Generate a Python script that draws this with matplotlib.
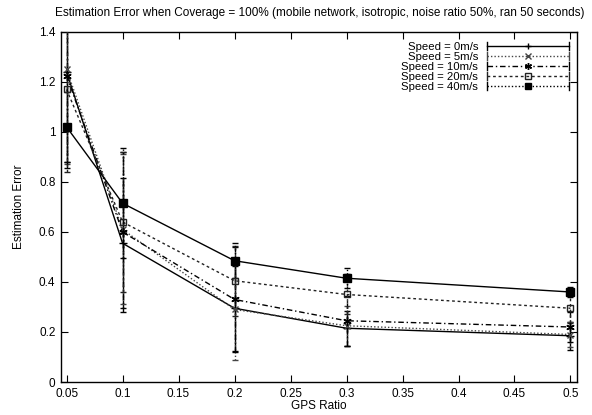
import matplotlib
matplotlib.use("Agg")
import matplotlib.pyplot as plt
from matplotlib.lines import Line2D
from matplotlib.legend_handler import HandlerLine2D

plt.rcParams['font.family'] = ['Liberation Sans', 'DejaVu Sans']

gps_ratio = [0.05, 0.1, 0.2, 0.3, 0.5]
speed_labels = ["Speed = 0m/s", "Speed = 5m/s", "Speed = 10m/s",
                "Speed = 20m/s", "Speed = 40m/s"]

err_0 = [1.24, 0.555, 0.295, 0.215, 0.185]
err_5 = [1.25, 0.610, 0.290, 0.225, 0.190]
err_10 = [1.225, 0.600, 0.330, 0.245, 0.220]
err_20 = [1.17, 0.640, 0.405, 0.350, 0.295]
err_40 = [1.02, 0.715, 0.485, 0.415, 0.360]

sd_0 = [0.36, 0.26, 0.17, 0.07, 0.055]
sd_5 = [0.38, 0.30, 0.20, 0.08, 0.05]
sd_10 = [0.37, 0.32, 0.21, 0.10, 0.06]
sd_20 = [0.33, 0.28, 0.14, 0.08, 0.06]
sd_40 = [0.14, 0.22, 0.07, 0.04, 0.02]

means = [err_0, err_5, err_10, err_20, err_40]
sds = [sd_0, sd_5, sd_10, sd_20, sd_40]

line_styles = ['-', (0, (1, 1.5)), (0, (4, 2, 1, 2)), (0, (2, 2)), '-']
bar_styles = ['-', (0, (1, 1.5)), (0, (4, 2, 1, 2)), (0, (2, 2)), (0, (1, 1.5))]
markers = ['+', 'x', (6, 2, 0), 's', 's']
marker_face = ['k', 'k', 'k', 'none', 'k']
marker_size = [6, 5, 6, 5, 6]
colors = ['black', '#444444', 'black', '#222222', 'black']


class CappedLineHandler(HandlerLine2D):
    """Legend sample: horizontal line with small end caps, marker in the middle."""

    def create_artists(self, legend, orig_handle, xdescent, ydescent,
                       width, height, fontsize, trans):
        artists = super().create_artists(legend, orig_handle, xdescent, ydescent,
                                         width, height, fontsize, trans)
        y = (height - ydescent) / 2.0
        h = 3.0
        for x in (-xdescent, -xdescent + width):
            cap = Line2D([x, x], [y - h, y + h], color=orig_handle.get_color(),
                         linewidth=1.0, transform=trans)
            artists.append(cap)
        return artists


fig = plt.figure(figsize=(5.92, 4.15), dpi=100)
ax = fig.add_axes([0.103, 0.0795, 0.872, 0.8435])

handles = []
for m, s, ls, bs, mk, mf, ms, c, lab in zip(means, sds, line_styles, bar_styles,
                                            markers, marker_face, marker_size,
                                            colors, speed_labels):
    ax.plot(gps_ratio, m, linestyle=ls, color=c, linewidth=1.0, zorder=2)
    eb = ax.errorbar(gps_ratio, m, yerr=s, fmt='none', ecolor=c, elinewidth=1.0,
                     capsize=2.5, capthick=1.0, zorder=3)
    eb[2][0].set_linestyle(bs)
    ax.plot(gps_ratio, m, linestyle='none', marker=mk, markersize=ms,
            markerfacecolor=mf, markeredgecolor=c, markeredgewidth=1.0, zorder=4)
    handles.append(Line2D([0], [0], color=c, linestyle=bs, linewidth=1.0,
                          marker=mk, markersize=ms - 1, markerfacecolor=mf,
                          markeredgecolor=c, markeredgewidth=1.0, label=lab))

ax.set_xlim(0.045, 0.506)
ax.set_ylim(0, 1.4)
ax.set_xticks([0.05, 0.1, 0.15, 0.2, 0.25, 0.3, 0.35, 0.4, 0.45, 0.5])
ax.set_xticklabels(["0.05", "0.1", "0.15", "0.2", "0.25", "0.3", "0.35",
                    "0.4", "0.45", "0.5"])
ax.set_yticks([0, 0.2, 0.4, 0.6, 0.8, 1.0, 1.2, 1.4])
ax.set_yticklabels(["0", "0.2", "0.4", "0.6", "0.8", "1", "1.2", "1.4"])
ax.tick_params(direction='in', top=True, right=True, length=5, width=0.8,
               labelsize=8.5, pad=4)
for sp in ax.spines.values():
    sp.set_linewidth(1.0)

ax.set_xlabel("GPS Ratio", fontsize=8.5, labelpad=0)
ax.set_ylabel("Estimation Error", fontsize=8.5, labelpad=10)
fig.text(0.54, 0.968, "Estimation Error when Coverage = 100% (mobile network, "
         "isotropic, noise ratio 50%, ran 50 seconds)", ha='center', va='center',
         fontsize=8.5)

ax.legend(handles=handles, loc='upper right', frameon=False, markerfirst=False,
          fontsize=8.2, handlelength=7.2, labelspacing=0.0, handletextpad=0.8,
          borderaxespad=0.3, bbox_to_anchor=(1.0, 0.995),
          handler_map={Line2D: CappedLineHandler()})

fig.savefig("out.png", dpi=100)
